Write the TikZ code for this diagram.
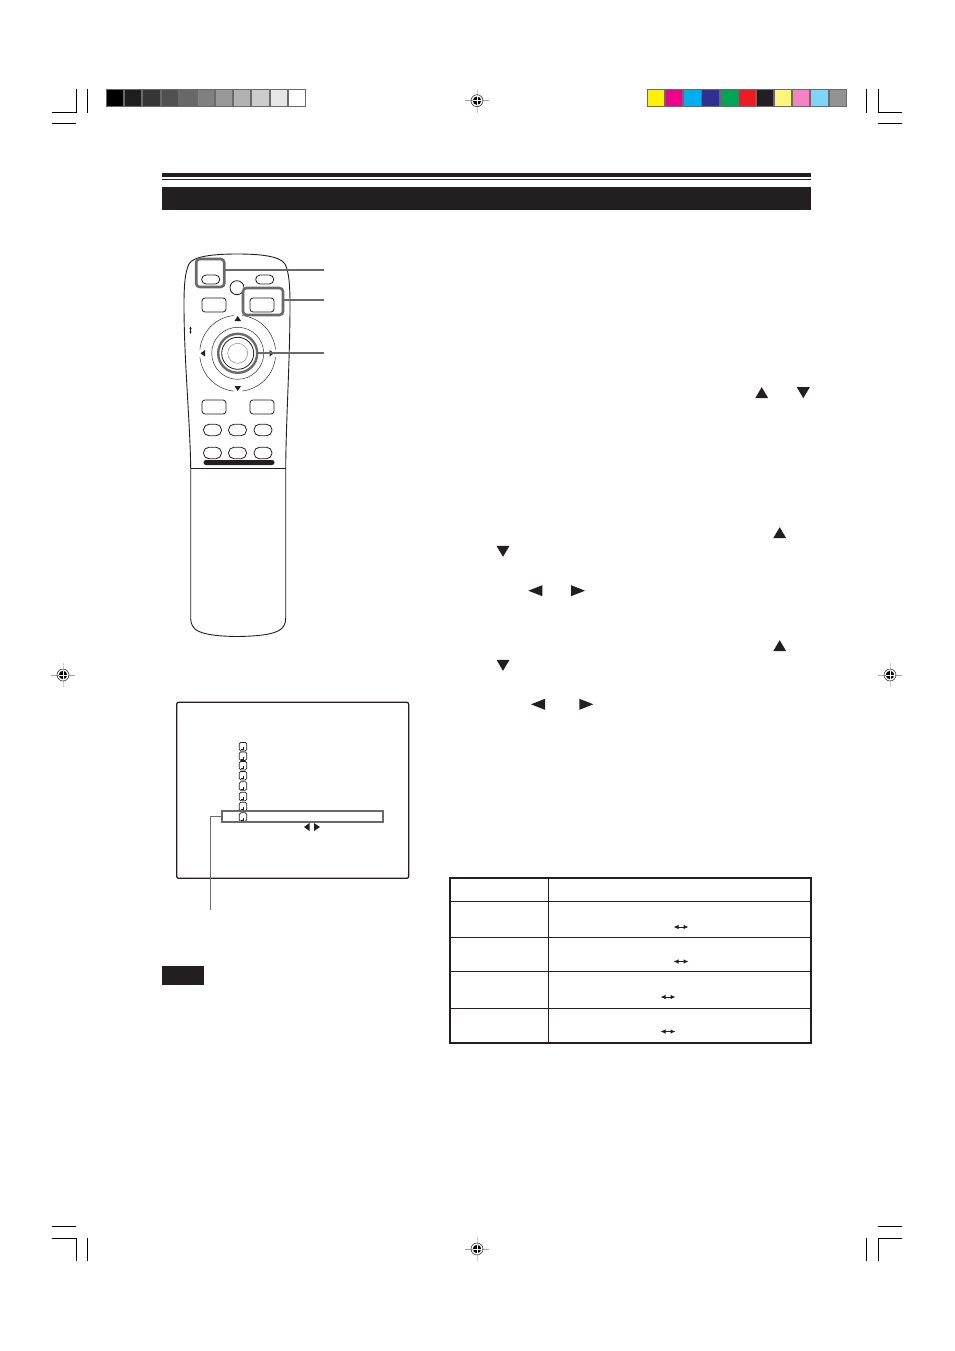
\documentclass[tikz,border=0pt]{standalone}
\usetikzlibrary{arrows.meta}
\definecolor{ink}{HTML}{231F20}
\definecolor{hl}{HTML}{6A6A6A}
\tikzset{
  crop/.style={black,line width=1pt},
  swatch/.style={draw=hl,line width=1pt,minimum width=17.2pt,minimum height=17pt,inner sep=0pt,outer sep=0pt},
  oval/.style={draw=ink,line width=.8pt,fill=white,rounded corners=5.5pt,minimum width=18pt,minimum height=11.5pt,inner sep=0pt,outer sep=0pt},
  topoval/.style={oval,rounded corners=4.4pt,minimum height=9pt},
  btn/.style={draw=ink,line width=.8pt,fill=white,rounded corners=3pt,minimum width=24pt,minimum height=14pt,inner sep=0pt,outer sep=0pt},
  halo/.style={draw=hl,line width=2.6pt,rounded corners=3.5pt,inner sep=0pt,outer sep=0pt},
  leader/.style={draw=hl,line width=1.7pt},
  body/.style={draw=ink,line width=.9pt},
  grid/.style={draw=ink,line width=.9pt},
  osdicon/.style={draw=ink,line width=.7pt,fill=white,rounded corners=1.4pt,minimum width=7.4pt,minimum height=8.4pt,inner sep=0pt,outer sep=0pt},
  pad/.style={circle,draw=ink,line width=.45pt,inner sep=0pt,outer sep=0pt}
}
\newcommand{\tritip}[3]{\fill[ink,shift={(#1,#2)},rotate=#3] (-6.5,5.5) -- (6.5,5.5) -- (0,-5.5) -- cycle;}
\newcommand{\sidetip}[3]{\fill[ink,shift={(#1,#2)},xscale=#3] (-7,5.5) -- (-7,-5.5) -- (7,0) -- cycle;}
\newcommand{\regmark}[2]{\begin{scope}[shift={(#1,#2)}]
 \draw[gray!70,line width=.8pt] (-12,0) -- (12,0);
 \draw[gray!40,line width=1pt] (0,-12) -- (0,12);
 \draw[ink,line width=.5pt] (0,0) circle (6);
 \fill[black] (0,0) circle (4.2);
 \draw[white,line width=.7pt] (-4.5,0) -- (4.5,0) (0,-4.5) -- (0,4.5);
\end{scope}}
\newcommand{\dblarrow}[2]{\draw[ink,line width=1pt,{Latex[length=5pt,width=4.6pt]}-{Latex[length=5pt,width=4.6pt]}] (#1-7.5,#2) -- (#1+7.5,#2);}
\begin{document}
\begin{tikzpicture}[x=1pt,y=-1pt]
\useasboundingbox[fill=white] (0,0) rectangle (954,1351);

% crop marks
\draw[crop] (52,112.3) -- (76,112.3) (52,124) -- (76,124) (76.2,89) -- (76.2,113) (87.5,89) -- (87.5,113);
\draw[crop] (878,112.3) -- (902,112.3) (878,124) -- (902,124) (878.3,89) -- (878.3,113) (866.7,89) -- (866.7,113);
\draw[crop] (52,1226) -- (76,1226) (52,1238.3) -- (76,1238.3) (76.2,1238) -- (76.2,1261) (87.5,1238) -- (87.5,1261);
\draw[crop] (878,1226) -- (902,1226) (878,1238.3) -- (902,1238.3) (878.3,1238) -- (878.3,1261) (866.7,1238) -- (866.7,1261);

% registration marks
\regmark{477}{100.7}\regmark{477}{1249}\regmark{63}{675}\regmark{890}{675}

% grey scale strip
\foreach \i/\c in {0/000000,1/1E1E1E,2/363636,3/505050,4/686868,5/808080,6/999999,7/B2B2B2,8/CCCCCC,9/E6E6E6,10/FFFFFF}{
  \definecolor{sw}{HTML}{\c}
  \node[swatch,fill=sw] (g\i) at ({115.1+\i*18.18},97.8) {};
}
% colour strip
\foreach \i/\c in {0/FFF200,1/EC008C,2/00AEEF,3/2E3192,4/00A651,5/ED1C24,6/231F20,7/FFF57D,8/F682C4,9/7DD5F7,10/939393}{
  \definecolor{sw}{HTML}{\c}
  \node[swatch,fill=sw] (c\i) at ({656.1+\i*18.16},97.8) {};
}

% header bars
\fill[ink] (162,173) rectangle (811,177);
\fill[ink] (162,179) rectangle (811,180.2);
\fill[ink] (162,187) rectangle (811,210);

% remote body
\draw[body] (190.7,468) .. controls (190,420) and (184,360) .. (184,305)
  .. controls (184,285) and (185,272) .. (189,264)
  .. controls (193,256) and (215,254) .. (237,254)
  .. controls (260,254) and (280,256) .. (285,264)
  .. controls (289,272) and (290,285) .. (290,305)
  .. controls (290,360) and (286,420) .. (285.7,468);
\draw[ink,line width=1.4pt] (190.7,468.5) -- (285.7,468.5);
\draw[body] (190.7,468) -- (190.7,618) .. controls (190.7,630) and (198,636) .. (237,636.5)
  .. controls (278,636) and (285.7,630) .. (285.7,618) -- (285.7,468);

% top buttons
\node[topoval] (b1) at (210.7,279.5) {};
\node[topoval] (b2) at (264.7,279.5) {};
\node[pad,line width=.8pt,minimum size=14pt] (b3) at (237,287.7) {};
\node[btn] (b4) at (214,305) {};
\node[btn] (b5) at (262,305) {};

% joystick pad
\node[pad,minimum size=76pt] (p1) at (237.7,353.3) {};
\node[pad,minimum size=52pt] (p2) at (237.7,353.3) {};
\node[pad,draw=hl,line width=2.4pt,minimum size=39pt] (p3) at (237.7,353.3) {};
\node[pad,line width=.8pt,minimum size=32pt] (p4) at (237.7,353.3) {};
\node[pad,minimum size=20pt,draw=gray] (p5) at (237.7,353.3) {};
\fill[white] (233.5,314) rectangle (242,320) (233.5,387) rectangle (242,393) (199,349.5) rectangle (205,357) (270,349.5) rectangle (276,357);
\fill[ink] (234.5,321) -- (241,321) -- (237.7,316) -- cycle;
\fill[ink] (234.5,386) -- (241,386) -- (237.7,391) -- cycle;
\fill[ink] (205,350) -- (205,356.5) -- (200.5,353.3) -- cycle;
\fill[ink] (269.5,350) -- (269.5,356.5) -- (274,353.3) -- cycle;
\draw[ink,line width=.6pt,{Latex[length=2.5pt,width=2.5pt]}-{Latex[length=2.5pt,width=2.5pt]}] (190.5,326.5) -- (190.5,334);

% lower buttons
\node[btn] (b6) at (214,407) {};
\node[btn] (b7) at (262,407) {};
\foreach \n/\x/\y in {o1/212.5/430,o2/237.5/430,o3/263/430,o4/212.5/453,o5/237.5/453,o6/263/453}{
  \node[oval] (\n) at (\x,\y) {};
}
\fill[ink,rounded corners=2.4pt] (203.5,460) rectangle (274.5,465);

% highlights and leaders
\node[halo,minimum width=28pt,minimum height=28pt] (h1) at (210.2,273) {};
\node[halo,minimum width=40pt,minimum height=27pt] (h2) at (263,301.5) {};
\coordinate (t1) at (324,270);
\coordinate (t2) at (324,300.3);
\coordinate (t3) at (324,353.3);
\draw[leader] (h1.east |- t1) -- (t1);
\draw[leader] (h2.east |- t2) -- (t2);
\draw[leader] (p3.east) -- (t3);

% OSD screen
\node[draw=ink,line width=1.3pt,rounded corners=2pt,minimum width=232pt,minimum height=176pt,inner sep=0pt,outer sep=0pt] (osd) at (292.7,790.3) {};
\foreach \n/\y in {i1/746.7,i2/756.2,i3/765.7,i4/775.7,i5/786,i6/796.5,i7/806.5,i8/817}{
  \node[osdicon] (\n) at (243,\y) {};
  \draw[ink,line width=.5pt] (243.3,\y+.5) -- (243.3,\y+3) -- (240.5,\y+3);
}
\node[draw=hl,line width=1.8pt,minimum width=161.6pt,minimum height=11.6pt,inner sep=0pt,outer sep=0pt] (sel) at (302.5,816.5) {};
\coordinate (selend) at (210.5,910);
\draw[leader,line width=.9pt] (sel.west) -| (selend);
\fill[ink] (309.5,823) -- (309.5,831) -- (304,827) -- cycle;
\fill[ink] (314,823) -- (314,831) -- (320,827) -- cycle;

% Note tag
\fill[ink] (162,966) rectangle (204,985);

% table
\draw[grid] (548.3,878) -- (548.3,1042.7);
\draw[grid] (449.3,901.3) -- (811,901.3);
\draw[grid] (449.3,937.3) -- (811,937.3);
\draw[grid] (451,971) -- (811,971);
\draw[grid] (451,1008) -- (811,1008);
\draw[ink,line width=1.8pt] (449.6,878) rectangle (811,1042.7);
\dblarrow{681}{927}
\dblarrow{681}{961.5}
\dblarrow{668}{997}
\dblarrow{668}{1031.5}

% body text arrow heads
\tritip{761.7}{392.7}{0}
\tritip{803.3}{392.7}{180}
\tritip{779.7}{532.7}{0}
\tritip{503}{551.3}{180}
\sidetip{535.3}{590.7}{-1}
\sidetip{578}{590.7}{1}
\tritip{779.7}{645.7}{0}
\tritip{503}{665.3}{180}
\sidetip{538}{704.3}{-1}
\sidetip{586.3}{704.3}{1}
\end{tikzpicture}
\end{document}
